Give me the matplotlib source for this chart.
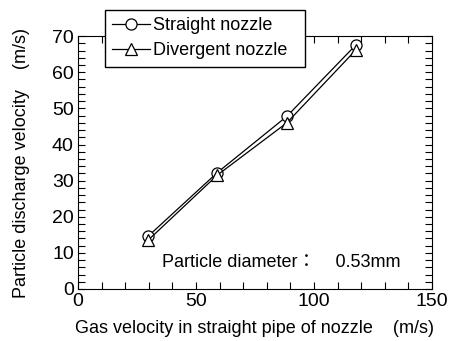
import matplotlib.pyplot as plt
from matplotlib.ticker import MultipleLocator

plt.rcParams['font.family'] = ['Liberation Sans', 'Noto Sans CJK JP', 'DejaVu Sans']

# gas velocity (m/s) and particle discharge velocity (m/s)
gas_v = [29.7, 59.0, 88.5, 117.8]
straight_v = [14.6, 32.2, 47.8, 67.6]
divergent_v = [13.5, 31.5, 46.0, 66.2]

fig = plt.figure(figsize=(4.49, 3.41), dpi=100)
ax = fig.add_axes([0.1737, 0.1525, 0.7883, 0.7415])

ax.plot(gas_v, straight_v, color='black', lw=0.9, marker='o', ms=8,
        mfc='white', mec='black', mew=0.9, label='Straight nozzle')
ax.plot(gas_v, divergent_v, color='black', lw=0.9, marker='^', ms=8.5,
        mfc='white', mec='black', mew=0.9, label='Divergent nozzle')

ax.set_xlim(0, 150)
ax.set_ylim(0, 70)
ax.xaxis.set_major_locator(MultipleLocator(50))
ax.xaxis.set_minor_locator(MultipleLocator(10))
ax.yaxis.set_major_locator(MultipleLocator(10))
ax.yaxis.set_minor_locator(MultipleLocator(2))
ax.tick_params(which='both', direction='in', top=True, right=True,
               labelsize=14, width=0.8, pad=3)
ax.tick_params(which='major', length=5)
ax.tick_params(which='minor', length=5)
for s in ax.spines.values():
    s.set_linewidth(0.8)

ax.set_xlabel('Gas velocity in straight pipe of nozzle    (m/s)',
              fontsize=13, labelpad=7)
ax.set_ylabel('Particle discharge velocity    (m/s)', fontsize=13,
              labelpad=16)

ax.text(0.237, 0.105, 'Particle diameter：    0.53mm', transform=ax.transAxes,
        fontsize=13, va='center')

# legend box stretched to a fixed width above the axes
fig.legend(loc='upper left',
           bbox_to_anchor=(105 / 449, 1 - 66 / 341, 200 / 449, 56 / 341),
           mode='expand', fontsize=13, frameon=True, fancybox=False,
           edgecolor='black', framealpha=1, handlelength=2.1,
           handletextpad=0.15, borderpad=0.4, labelspacing=0.45,
           borderaxespad=0)

fig.savefig('out.png', dpi=100)
